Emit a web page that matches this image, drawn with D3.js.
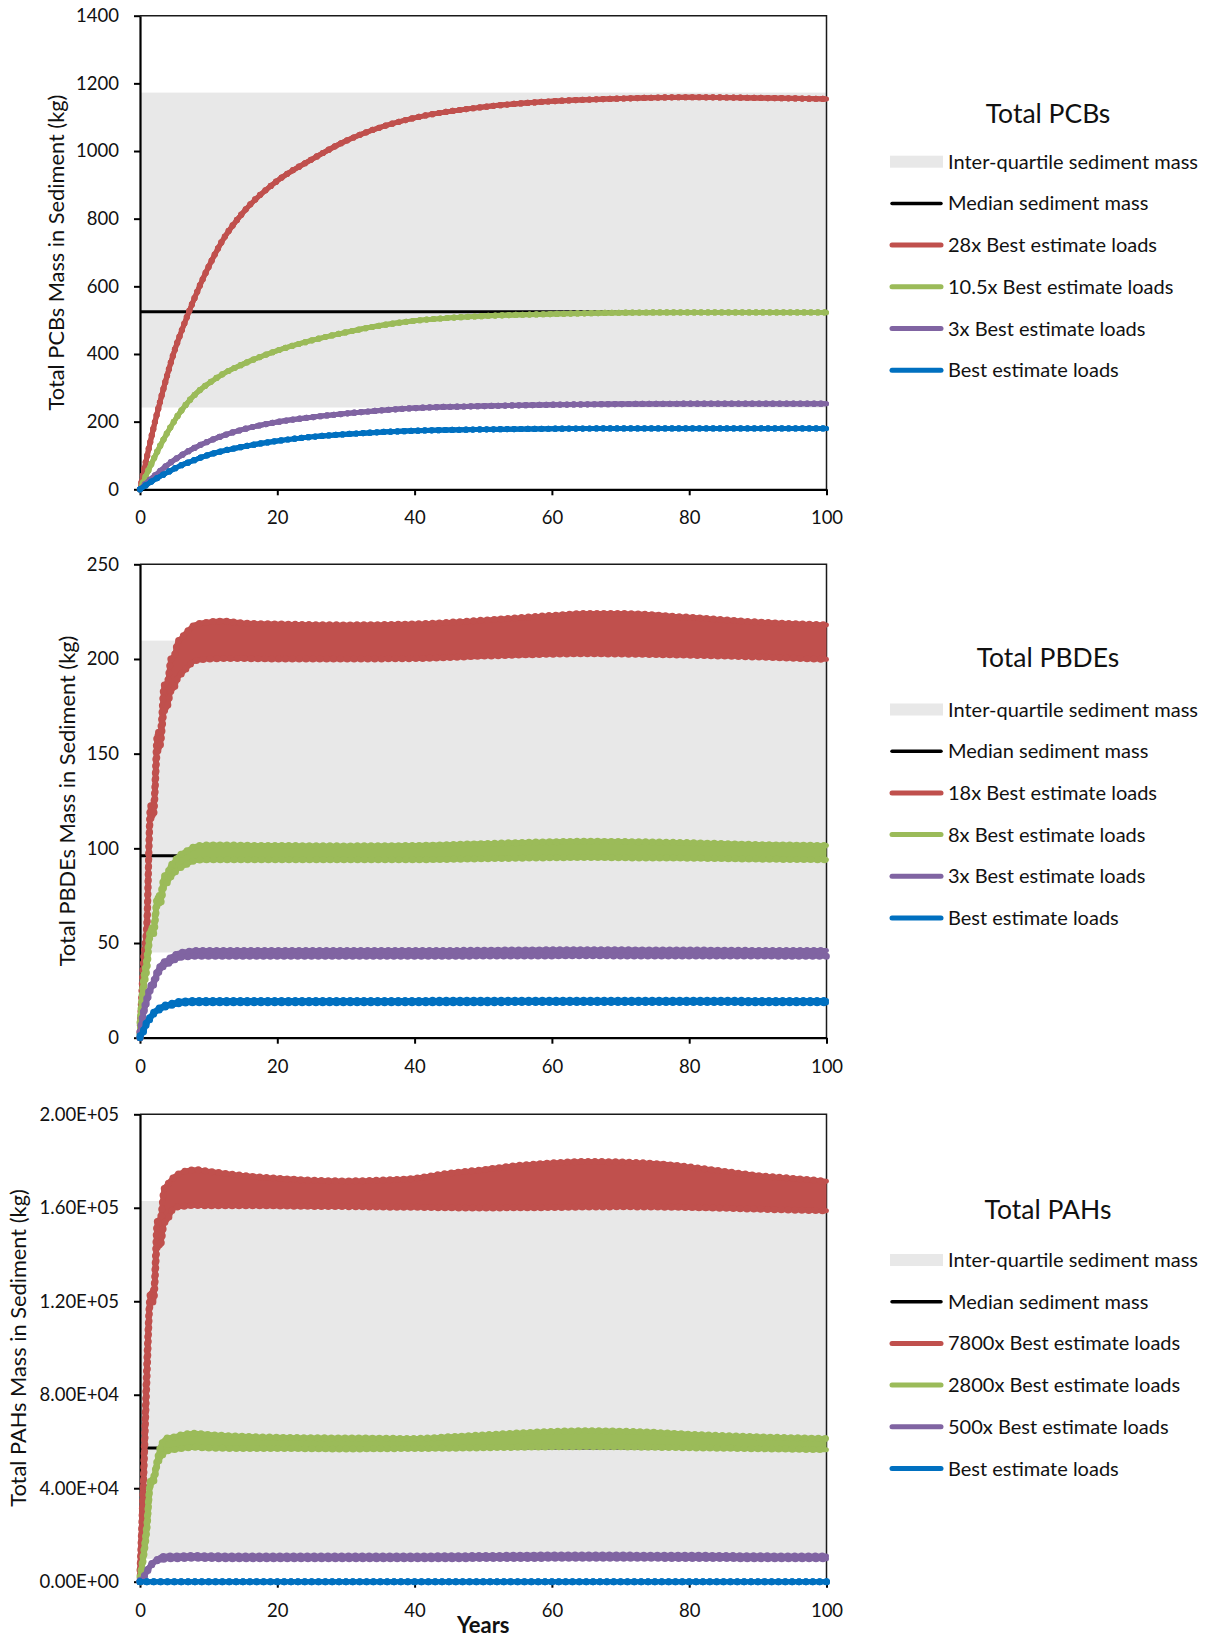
<!DOCTYPE html>
<html><head><meta charset="utf-8">
<script src="https://cdn.jsdelivr.net/npm/d3@7"></script>
<style>
body{margin:0;background:#fff;}
svg{display:block;font-family:Lato,'Open Sans',sans-serif;}
</style>
</head><body>
<svg id="c" width="1209" height="1638"></svg>
<script>
// ---------------- DATA ----------------
const xTicks = [0, 20, 40, 60, 80, 100];
const seriesColors = ["#C0504D", "#9BBB59", "#8064A2", "#0070C0"];

// Total PCBs
const pcbYears  = [0,1,2,3,4,5,6,7,8,9,10,12,15,20,25,30,35,40,50,60,70,80,90,100];
const pcbRed    = [0,95,184,265,340,408,465,518,568,615,658,735,818,912,975,1030,1070,1098,1130,1147,1155,1159,1157,1154];
const pcbGreen  = [0,46,90,131,168,202,232,258,280,298,313,340,370,410,440,464,484,498,512,518,522,523,523,523];
const pcbPurple = [0,20,38,55,72,87,100,112,123,133,142,158,177,199,213,224,233,240,246,250,252,253,253,253];
const pcbBlue   = [0,14,27,39,50,61,71,79,87,95,102,113,126,143,155,163,169,173,177,179,180,180,180,180];
const pcbBand   = [241.7, 1172.6];
const pcbMedian = 525;
const pcbTicks  = [0,200,400,600,800,1000,1200,1400];
const pcbTickLabels = ["0","200","400","600","800","1000","1200","1400"];
const pcbLegend = ["Inter-quartile sediment mass","Median sediment mass","28x Best estimate loads","10.5x Best estimate loads","3x Best estimate loads","Best estimate loads"];

// Total PBDEs (annual high / low of the seasonal cycle)
const pbdeYears    = [0,0.5,1,1.5,2,2.5,3,3.5,4,4.5,5,5.5,6,7,8,10,12,15,20,30,40,50,60,65,70,80,90,100];
const pbdeRedHi    = [3,40,62,122,124,160,163,186,188,200,202,209,211,215,218,219.5,220,219,218.5,218,218.5,220.5,223,224,224,222,219.5,218];
const pbdeRedLo    = [0,30,55,115,118,150,155,172,175,183,185,190,192,196,199,200,200.2,200.2,200,200,200.2,201.5,202.5,202.8,202.6,202,201,199.8];
const pbdeGreenHi  = [8,30,42,57,59,74,76,85,87,91,93,95.5,97,99,101,101.8,101.8,101.6,101.5,101.3,101.5,102.5,103.5,103.7,103.6,103,102,101.5];
const pbdeGreenLo  = [2,25,36,54,55,70,71,80,82,85,87,89,90,92,93.5,94,94,94,94,94,94,94.5,95,95.2,95,94.8,94.3,94];
const pbdePurpleHi = [3,14,21,27,30,35,38,40,41,42.5,43.5,44.5,45,45.5,46,46,46,46,46,46,46,46.2,46.4,46.5,46.4,46.3,46.1,46];
const pbdePurpleLo = [0,12,19,25,28,33,36,38,39,40,41,41.8,42.5,42.8,43,43,43,43,43,43,43,43.1,43.2,43.3,43.2,43.2,43.1,43];
const pbdeBlueHi   = [1,4,8.5,11,13.5,15,16,17,17.5,18,18.5,19,19.3,19.5,19.7,19.7,19.7,19.7,19.7,19.7,19.7,19.8,19.8,19.8,19.8,19.8,19.7,19.7];
const pbdeBlueLo   = [0,3,7.5,10,12.5,14,15,16,16.5,17,17.5,17.8,18.2,18.4,18.5,18.5,18.5,18.5,18.5,18.5,18.5,18.5,18.6,18.6,18.6,18.6,18.5,18.5];
const pbdeBand     = [45.0, 209.7];
const pbdeMedian   = 96.1;
const pbdeTicks    = [0,50,100,150,200,250];
const pbdeTickLabels = ["0","50","100","150","200","250"];
const pbdeLegend   = ["Inter-quartile sediment mass","Median sediment mass","18x Best estimate loads","8x Best estimate loads","3x Best estimate loads","Best estimate loads"];

// Total PAHs (annual high / low of the seasonal cycle)
const pahYears    = [0,0.5,1,1.5,2,2.5,3,3.5,4,5,6,8,10,15,20,25,30,35,40,45,50,55,60,65,70,75,80,85,90,95,100];
const pahRedHi    = [5000,45000,95000,123000,125000,154000,156000,168000,170000,173300,175000,176300,175600,173800,172600,171800,171500,171800,172600,174800,176300,178100,179200,179800,179600,178900,177500,175600,173800,172600,171400];
const pahRedLo    = [0,40000,85000,119000,120000,143000,144000,153000,155000,160000,160500,161000,160900,160900,160800,160600,160500,160300,160200,160000,159900,160000,160100,160300,160400,160300,160100,159800,159400,159000,158700];
const pahGreenHi  = [2000,12000,25000,43000,45000,52000,58000,60500,61500,62000,62800,63500,63000,62200,61800,61600,61500,61400,61300,62000,62800,63600,64300,64600,64400,63900,63100,62500,62000,61600,61300];
const pahGreenLo  = [0,10000,22000,41000,43000,50000,53000,55000,56000,56500,57000,57500,57200,57000,57000,56900,56800,56900,57000,57100,57300,57500,57700,57800,57700,57500,57300,57100,56900,56700,56500];
const pahPurpleHi = [500,2000,4500,7000,8500,9500,10500,10800,11000,11000,11100,11200,11100,11000,11000,11000,11000,11000,11000,11100,11200,11300,11400,11400,11400,11300,11300,11200,11100,11000,11000];
const pahPurpleLo = [0,1500,4000,6500,8000,9000,9300,9600,9800,9800,9900,10000,9900,9800,9800,9800,9800,9800,9800,9800,9900,9900,10000,10000,10000,10000,9900,9900,9800,9800,9800];
const pahBlue     = [22,22,22,22,22,22,22,22,22,22,22,22,22,22,22,22,22,22,22,22,22,22,22,22,22,22,22,22,22,22,22];
const pahBand     = [9800, 162900];
const pahMedian   = 57250;
const pahTicks    = [0,40000,80000,120000,160000,200000];
const pahTickLabels = ["0.00E+00","4.00E+04","8.00E+04","1.20E+05","1.60E+05","2.00E+05"];
const pahLegend   = ["Inter-quartile sediment mass","Median sediment mass","7800x Best estimate loads","2800x Best estimate loads","500x Best estimate loads","Best estimate loads"];

// ---------------- LAYOUT ----------------
const panels = [
  { title:"Total PCBs", yTitle:"Total PCBs Mass in Sediment (kg)", yTitleX:56.7,
    top:15.7, bottom:489.3, yMax:1400, ticks:pcbTicks, tickLabels:pcbTickLabels,
    band:pcbBand, median:pcbMedian, years:pcbYears, legend:pcbLegend,
    series:[{hi:pcbRed,lo:pcbRed},{hi:pcbGreen,lo:pcbGreen},{hi:pcbPurple,lo:pcbPurple},{hi:pcbBlue,lo:pcbBlue}],
    titleY:113.3, legendY0:161.7, dotW:6.2 },
  { title:"Total PBDEs", yTitle:"Total PBDEs Mass in Sediment (kg)", yTitleX:66.9,
    top:564.3, bottom:1037.7, yMax:250, ticks:pbdeTicks, tickLabels:pbdeTickLabels,
    band:pbdeBand, median:pbdeMedian, years:pbdeYears, legend:pbdeLegend,
    series:[{hi:pbdeRedHi,lo:pbdeRedLo},{hi:pbdeGreenHi,lo:pbdeGreenLo},{hi:pbdePurpleHi,lo:pbdePurpleLo},{hi:pbdeBlueHi,lo:pbdeBlueLo}],
    titleY:658, legendY0:709.5, dotW:7 },
  { title:"Total PAHs", yTitle:"Total PAHs Mass in Sediment (kg)", yTitleX:18.8,
    top:1114.3, bottom:1581.7, yMax:200000, ticks:pahTicks, tickLabels:pahTickLabels,
    band:pahBand, median:pahMedian, years:pahYears, legend:pahLegend,
    series:[{hi:pahRedHi,lo:pahRedLo},{hi:pahGreenHi,lo:pahGreenLo},{hi:pahPurpleHi,lo:pahPurpleLo},{hi:pahBlue,lo:pahBlue}],
    titleY:1209.6, legendY0:1260, dotW:7 }
];

const svg = d3.select("#c");
const X0 = 140, X1 = 826.5;
const x = d3.scaleLinear().domain([0,100]).range([X0,X1]);
const yearPx = x(1) - x(0);

panels.forEach(p => {
  const y = d3.scaleLinear().domain([0,p.yMax]).range([p.bottom,p.top]);
  const g = svg.append("g");

  // inter-quartile band
  g.append("rect")
    .attr("x", x(0)).attr("width", x(100)-x(0))
    .attr("y", y(p.band[1])).attr("height", y(p.band[0]) - y(p.band[1]))
    .attr("fill", "#E8E8E8");

  // top / right frame
  g.append("path")
    .attr("d", `M${x(0)},${y(p.yMax)}H${x(100)}V${y(0)}`)
    .attr("fill","none").attr("stroke","#1a1a1a").attr("stroke-width",1.5);

  // y axis
  const ya = g.append("g").attr("transform",`translate(${x(0)},0)`)
    .call(d3.axisLeft(y).tickValues(p.ticks).tickFormat((d,i)=>p.tickLabels[i])
      .tickSize(6).tickSizeOuter(0).tickPadding(15));
  // x axis
  const xa = g.append("g").attr("transform",`translate(0,${y(0)})`)
    .call(d3.axisBottom(x).tickValues(xTicks).tickFormat(d=>String(d))
      .tickSize(6).tickSizeOuter(0).tickPadding(16));
  [ya, xa].forEach(a => {
    a.select(".domain").attr("stroke","#000").attr("stroke-width",2.2);
    a.selectAll(".tick line").attr("stroke","#000").attr("stroke-width",2);
    a.selectAll(".tick text").attr("fill","#111").style("font-size","18.5px").style("font-family","Lato,'Open Sans',sans-serif");
  });

  // y axis title
  g.append("text")
    .attr("transform",`translate(${p.yTitleX},${(p.top+p.bottom)/2}) rotate(-90)`)
    .attr("text-anchor","middle").attr("dy","0.35em")
    .style("font-size","21.8px").attr("fill","#111").text(p.yTitle);

  // median
  g.append("line")
    .attr("x1", x(0)).attr("x2", x(100))
    .attr("y1", y(p.median)).attr("y2", y(p.median))
    .attr("stroke","#000").attr("stroke-width",3);

  // series
  p.series.forEach((s, k) => {
    const color = seriesColors[k];
    const data = p.years.map((t,i) => ({t, hi:s.hi[i], lo:s.lo[i]}));
    const area = d3.area().x(d=>x(d.t)).y0(d=>y(d.lo)).y1(d=>y(d.hi)).curve(d3.curveMonotoneX);
    const lineHi = d3.line().x(d=>x(d.t)).y(d=>y(d.hi)).curve(d3.curveMonotoneX);
    const lineLo = d3.line().x(d=>x(d.t)).y(d=>y(d.lo)).curve(d3.curveMonotoneX);
    const sg = g.append("g");
    sg.append("path").attr("d", area(data)).attr("fill", color);
    [lineHi, lineLo].forEach(L => {
      sg.append("path").attr("d", L(data)).attr("fill","none")
        .attr("stroke", color).attr("stroke-width",5)
        .attr("stroke-linejoin","round").attr("stroke-linecap","round");
      sg.append("path").attr("d", L(data)).attr("fill","none")
        .attr("stroke", color).attr("stroke-width",p.dotW)
        .attr("stroke-linecap","round").attr("stroke-dasharray",`0 ${yearPx}`);
    });
  });

  // legend
  const lg = g.append("g");
  lg.append("text").attr("x",1048).attr("y",p.titleY).attr("dy","0.35em")
    .attr("text-anchor","middle").style("font-size","26.5px").attr("fill","#111").text(p.title);
  p.legend.forEach((lab, i) => {
    const ly = p.legendY0 + i*41.7;
    if (i === 0) {
      lg.append("rect").attr("x",890).attr("y",ly-6).attr("width",53).attr("height",12).attr("fill","#E8E8E8");
    } else {
      lg.append("line").attr("x1",892).attr("x2",941).attr("y1",ly).attr("y2",ly)
        .attr("stroke", i===1 ? "#000" : seriesColors[i-2])
        .attr("stroke-width", i===1 ? 3.5 : 5).attr("stroke-linecap","round");
    }
    lg.append("text").attr("x",948).attr("y",ly).attr("dy","0.35em")
      .style("font-size","20px").attr("fill","#111").text(lab);
  });
});

// x axis title
svg.append("text").attr("x",(X0+X1)/2).attr("y",1625.5).attr("dy","0.35em")
  .attr("text-anchor","middle").style("font-size","22px").style("font-weight","bold")
  .attr("fill","#111").text("Years");
</script>
</body></html>
